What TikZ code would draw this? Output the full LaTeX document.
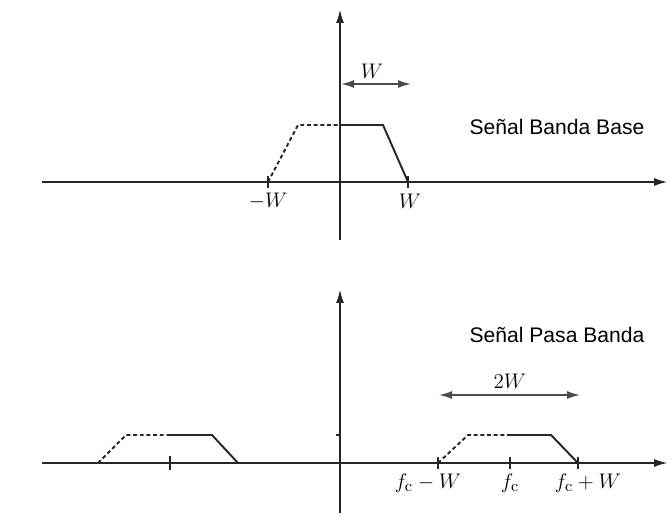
\documentclass[tikz,border=0pt]{standalone}
\usepackage{amsmath}
\usepackage{fontspec}
\newfontfamily\labelfont{Liberation Sans}
\usetikzlibrary{arrows.meta,positioning}

\begin{document}
\begin{tikzpicture}[
  x=0.02cm,y=-0.02cm,
  axis/.style={draw=black!85,line width=0.6pt},
  axisarrow/.style={axis,-{Latex[length=2.6mm,width=1.6mm]}},
  sig/.style={draw=black!85,line width=1.1pt},
  dsig/.style={sig,dash pattern=on 2.2pt off 1.6pt},
  span/.style={draw=black!70,line width=0.9pt,{Latex[length=2.6mm,width=1.6mm]}-{Latex[length=2.6mm,width=1.6mm]}},
  tick/.style={draw=black!85,line width=0.6pt},
  mlabel/.style={font=\fontsize{13}{15}\selectfont,inner sep=1pt},
  title/.style={font=\labelfont\fontsize{12}{14}\selectfont,text=black,inner sep=1pt}
]
\useasboundingbox (0,0) rectangle (671,516);

% senal banda base
\coordinate (o1) at (340,182);
\coordinate (x1l) at (42,182);
\coordinate (x1r) at (667,182);
\coordinate (y1b) at (340,240);
\coordinate (y1t) at (340,10);
\coordinate (mw) at (268,182);
\coordinate (pw) at (408,182);
\draw[axisarrow] (x1l) -- (x1r);
\draw[axisarrow] (y1b) -- (y1t);
\draw[sig] (x1l) -- (mw);
\draw[sig] (pw) -- (600,182);
\draw[dsig] (mw) -- (298,125) -- (340,125);
\draw[sig] (340,125) -- (383,125) -- (pw);
\draw[tick] (268,176) -- (268,188);
\draw[tick] (408,176) -- (408,188);
\node[mlabel] (lmw) at (268,201) {$-W$};
\node[mlabel] (lpw) at (410,201) {$W$};
\coordinate (w1a) at (341,84);
\coordinate (w1b) at (411,84);
\draw[span] (w1a) -- (w1b);
\node[mlabel] (lw) at (372,71) {$W$};
\node[title] (tbase) at (557,127) {Señal Banda Base};

% senal pasa banda
\coordinate (x2l) at (42,463);
\coordinate (x2r) at (667,463);
\coordinate (y2b) at (340,513);
\coordinate (y2t) at (340,290);
\draw[axisarrow] (x2l) -- (x2r);
\draw[axisarrow] (y2b) -- (y2t);
\draw[tick] (336,435) -- (340,435);
% replica negativa
\draw[sig] (x2l) -- (98,463);
\draw[dsig] (98,463) -- (126,435) -- (167,435);
\draw[sig] (167,435) -- (212,435) -- (238,463) -- (340,463);
\draw[tick] (170,456) -- (170,470);
% replica positiva
\coordinate (fl) at (438,463);
\coordinate (fc) at (510,463);
\coordinate (fh) at (578,463);
\draw[sig] (340,463) -- (fl);
\draw[dsig] (fl) -- (468,435) -- (508,435);
\draw[sig] (508,435) -- (551,435) -- (fh) -- (640,463);
\foreach \p in {fl,fc,fh}
  \draw[tick] ([yshift=-0.12cm]\p) -- ([yshift=0.12cm]\p);
\node[mlabel] (lfl) at (428,483) {$f_{\mathrm{c}}-W$};
\node[mlabel] (lfc) at (510,483) {$f_{\mathrm{c}}$};
\node[mlabel] (lfh) at (588,483) {$f_{\mathrm{c}}+W$};
\coordinate (w2a) at (439,395);
\coordinate (w2b) at (580,395);
\draw[span] (w2a) -- (w2b);
\node[mlabel] (l2w) at (510,381) {$2W$};
\node[title] (tpasa) at (557,335) {Señal Pasa Banda};
\end{tikzpicture}
\end{document}
